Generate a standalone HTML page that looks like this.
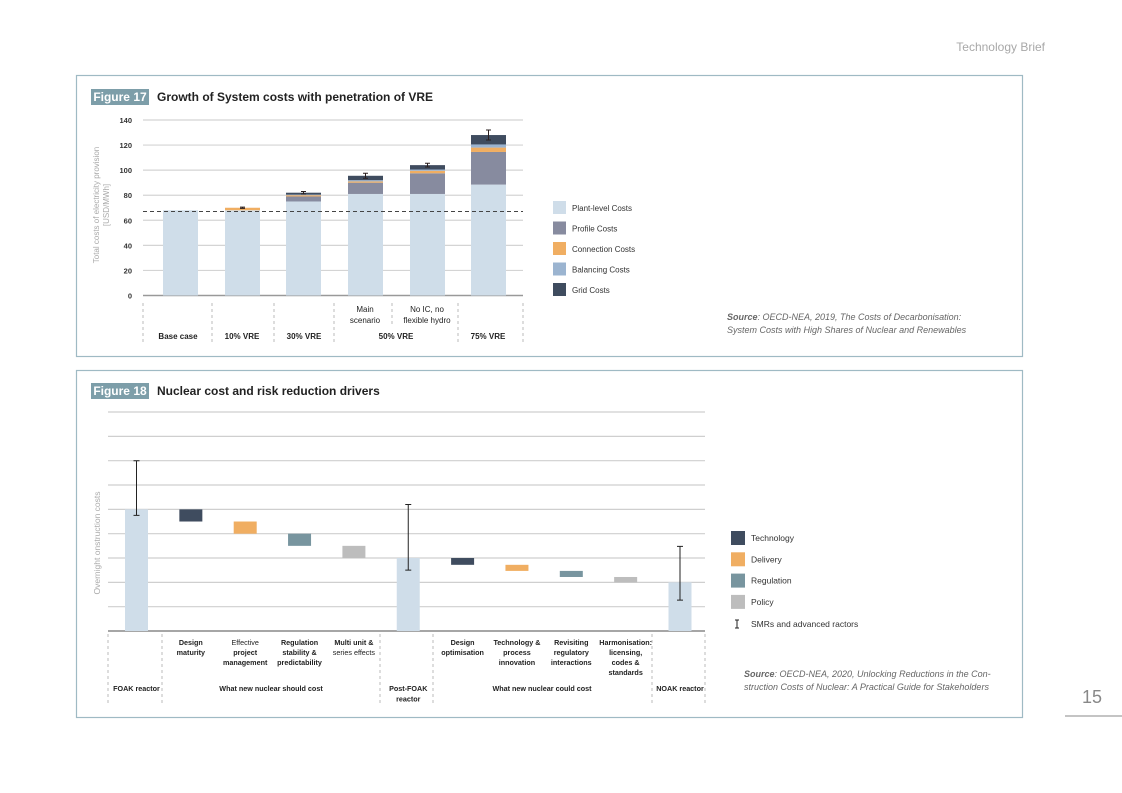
<!DOCTYPE html>
<html><head><meta charset="utf-8">
<style>
body{margin:0;width:1122px;height:793px;background:#fff;font-family:"Liberation Sans",sans-serif;position:relative;overflow:hidden}
svg{position:absolute;left:0;top:0}
</style></head>
<body>
<svg id="s" width="1122" height="793" xmlns="http://www.w3.org/2000/svg" font-family="Liberation Sans, sans-serif">
<text x="1045" y="51" text-anchor="end" font-size="12" fill="#a8a8a8">Technology Brief</text>
<text x="1102" y="703" text-anchor="end" font-size="18" fill="#888">15</text>
<line x1="1065" y1="716" x2="1122" y2="716" stroke="#888" stroke-width="1"/>

<rect x="76.5" y="75.5" width="946" height="281" fill="none" stroke="#9fbac4" stroke-width="1.2"/>
<rect x="91" y="89" width="58" height="16" fill="#7d9ea9"/>
<text x="120" y="101" text-anchor="middle" font-size="12" font-weight="bold" fill="#fff">Figure 17</text>
<text x="157" y="101" font-size="12" font-weight="bold" fill="#222">Growth of System costs with penetration of VRE</text>

<rect x="76.5" y="370.5" width="946" height="347" fill="none" stroke="#9fbac4" stroke-width="1.2"/>
<rect x="91" y="383" width="58" height="16" fill="#7d9ea9"/>
<text x="120" y="395" text-anchor="middle" font-size="12" font-weight="bold" fill="#fff">Figure 18</text>
<text x="157" y="395" font-size="12" font-weight="bold" fill="#222">Nuclear cost and risk reduction drivers</text>

<g id="c1"></g><g id="c2"></g>

<text x="727" y="320" font-size="9" font-style="italic" fill="#666"><tspan font-weight="bold">Source</tspan>: OECD-NEA, 2019, The Costs of Decarbonisation:</text>
<text x="727" y="333" font-size="9" font-style="italic" fill="#666">System Costs with High Shares of Nuclear and Renewables</text>
<text x="744" y="677" font-size="9" font-style="italic" fill="#666"><tspan font-weight="bold">Source</tspan>: OECD-NEA, 2020, Unlocking Reductions in the Con-</text>
<text x="744" y="690" font-size="9" font-style="italic" fill="#666">struction Costs of Nuclear: A Practical Guide for Stakeholders</text>
</svg>
<script>
// ---------- Figure 17 data ----------
const c1Categories=["Base case","10% VRE","30% VRE","Main scenario","No IC, no flexible hydro","75% VRE"];
const c1Plant=[68,68,75,81,81,88.5];
const c1Profile=[0,0,4,9,16.5,26];
const c1Connection=[0,2,1,1,2,3.5];
const c1Balancing=[0,0,0.5,1,1,2.5];
const c1Grid=[0,0,1.5,3.5,3.5,7.5];
const c1Err=[0,0.5,1,2,1.5,4];
const c1Ticks=[0,20,40,60,80,100,120,140];
const c1Baseline=67;
const c1SeriesNames=["Plant-level Costs","Profile Costs","Connection Costs","Balancing Costs","Grid Costs"];

// ---------- Figure 18 data ----------
const c2Labels=[["FOAK reactor"],["Design","maturity"],["Effective","project","management"],["Regulation","stability &","predictability"],["Multi unit &","series effects"],["Post-FOAK","reactor"],["Design","optimisation"],["Technology &","process","innovation"],["Revisiting","regulatory","interactions"],["Harmonisation:","licensing,","codes &","standards"],["NOAK reactor"]];
const c2Type=["total","technology","delivery","regulation","policy","total","technology","delivery","regulation","policy","total"];
const c2Start=[0,5,4.5,4,3.5,0,3,2.72,2.47,2.22,0];
const c2End=[5,4.5,4,3.5,3,3,2.72,2.47,2.22,2,2];
const c2ErrHi=[7,null,null,null,null,5.2,null,null,null,null,3.48];
const c2ErrLo=[4.75,null,null,null,null,2.5,null,null,null,null,1.27];
const c2Gridlines=[0,1,2,3,4,5,6,7,8,9];

const NS="http://www.w3.org/2000/svg";
function mk(p,t,a){const e=document.createElementNS(NS,t);for(const k in a)e.setAttribute(k,a[k]);p.appendChild(e);return e;}

// Chart 1
const g1=document.getElementById('c1');
const y1=v=>295.5-v*(175.5/140);
const x1=i=>[163,225,286,348,410,471][i];
const bw1=35;
const col1=["#cfdde9","#878b9f","#f0ae62","#9bb4d0","#3f4c5f"];
c1Ticks.forEach(t=>{
  const l=mk(g1,'line',{x1:143,x2:523,y1:y1(t),y2:y1(t),stroke:t==0?'#999':'#d4d4d4','stroke-width':t==0?1.5:1.2});
  
  
  const tx=mk(g1,'text',{x:132,y:y1(t)+3,'text-anchor':'end','font-size':7.5,'font-weight':'bold',fill:'#333'});
  tx.textContent=t;
  
  
});
const series=[c1Plant,c1Profile,c1Connection,c1Balancing,c1Grid];
c1Categories.forEach((c,i)=>{
  let base=0;
  series.forEach((s,k)=>{
    const v=s[i]; if(v<=0) return;
    const r=mk(g1,'rect',{x:x1(i),y:y1(base+v),width:bw1,height:y1(base)-y1(base+v),fill:col1[k]});
    
    
    base+=v;
  });
  if(c1Err[i]>0){
    const cx=x1(i)+bw1/2;
    const e=mk(g1,'path',{d:`M${cx},${y1(base+c1Err[i])}V${y1(base-c1Err[i])}M${cx-2.5},${y1(base+c1Err[i])}h5M${cx-2.5},${y1(base-c1Err[i])}h5`,stroke:'#2a1f1f','stroke-width':1,fill:'none'});
    
    
  }
});
const dl=mk(g1,'line',{x1:143,x2:523,y1:y1(c1Baseline),y2:y1(c1Baseline),stroke:'#444','stroke-dasharray':'4,3','stroke-width':1});


// separators
[[143,303,345],[212,303,345],[274,303,345],[334,303,345],[392,303,327],[458,303,345],[523,303,345]].forEach(s=>{
  const l=mk(g1,'line',{x1:s[0],x2:s[0],y1:s[1],y2:s[2],stroke:'#bbb','stroke-dasharray':'3,3'});
  
  
});
function txt(g,x,y,s,a){const t=mk(g,'text',Object.assign({x:x,y:y,'text-anchor':'middle','font-size':8,fill:'#222'},a||{}));t.textContent=s;return t;}
[["Base case",178],["10% VRE",242],["30% VRE",304],["50% VRE",396],["75% VRE",488]].forEach(a=>{
  const t=txt(g1,a[1],339,a[0],{'font-weight':'bold'});
  
  
});
txt(g1,365,312,"Main");txt(g1,365,323,"scenario");
txt(g1,427,312,"No IC, no");txt(g1,427,323,"flexible hydro");
const yt=mk(g1,'text',{transform:'translate(99,205) rotate(-90)','text-anchor':'middle','font-size':8,fill:'#aaa'});
yt.textContent="Total costs of electricity provision";


const yt2=mk(g1,'text',{transform:'translate(109,205) rotate(-90)','text-anchor':'middle','font-size':8,fill:'#aaa'});
yt2.textContent="[USD/MWh]";
c1SeriesNames.forEach((n,k)=>{
  const y=201+k*20.5;
  const r=mk(g1,'rect',{x:553,y:y,width:13,height:13,fill:col1[k]});
  
  
  const t=mk(g1,'text',{x:572,y:y+10,'font-size':8,fill:'#333'});t.textContent=n;
  
  
});

// Chart 2
const g2=document.getElementById('c2');
const y2=v=>631-v*24.33;
const x2=i=>136.5+i*54.35;
const bw2=23;
const col2={total:"#cfdde9",technology:"#3f4c5f",delivery:"#f0ae62",regulation:"#78959f",policy:"#bdbdbd"};
c2Gridlines.forEach(t=>{
  const l=mk(g2,'line',{x1:108,x2:705,y1:y2(t),y2:y2(t),stroke:t==0?'#888':'#cfcfcf','stroke-width':t==0?1.5:1.2});
  
  
});
c2Type.forEach((tp,i)=>{
  const top=Math.max(c2Start[i],c2End[i]),bot=Math.min(c2Start[i],c2End[i]);
  const r=mk(g2,'rect',{x:x2(i)-bw2/2,y:y2(top),width:bw2,height:y2(bot)-y2(top),fill:col2[tp]});
  
  
  if(c2ErrHi[i]!=null){
    const cx=x2(i);
    const e=mk(g2,'path',{d:`M${cx},${y2(c2ErrHi[i])}V${y2(c2ErrLo[i])}M${cx-3},${y2(c2ErrHi[i])}h6M${cx-3},${y2(c2ErrLo[i])}h6`,stroke:'#222','stroke-width':1,fill:'none'});
    
    
  }
  c2Labels[i].forEach((s,j)=>{
    const single=(tp=='total');
    const t=txt(g2,x2(i),single?(691+j*10.5):(645+j*10),s,{'font-size':7.2,'font-weight':(i==2||i==4)&&j>=(i==4?1:0)&&!(i==2&&j>0)?'normal':'bold'});
    
    
  });
});
[108,162,380,433,652,705].forEach(x=>{
  const l=mk(g2,'line',{x1:x,x2:x,y1:634,y2:705,stroke:'#bbb','stroke-dasharray':'3,3'});
  
  
});
txt(g2,271,691,"What new nuclear should cost",{'font-size':7.2,'font-weight':'bold'});
txt(g2,542,691,"What new nuclear could cost",{'font-size':7.2,'font-weight':'bold'});
const yt3=mk(g2,'text',{transform:'translate(100,543) rotate(-90)','text-anchor':'middle','font-size':8.5,fill:'#aaa'});
yt3.textContent="Overnight onstruction costs";


[["Technology","#3f4c5f"],["Delivery","#f0ae62"],["Regulation","#78959f"],["Policy","#bdbdbd"]].forEach((a,k)=>{
  const y=531+k*21.3;
  const r=mk(g2,'rect',{x:731,y:y,width:14,height:14,fill:a[1]});
  
  
  const t=mk(g2,'text',{x:751,y:y+10,'font-size':8.5,fill:'#333'});t.textContent=a[0];
  
  
});
const ls=mk(g2,'path',{d:'M737,620V628M735,620h4M735,628h4',stroke:'#222','stroke-width':1});


const lt=mk(g2,'text',{x:751,y:627,'font-size':8.5,fill:'#333'});lt.textContent="SMRs and advanced ractors";


</script>
</body></html>
